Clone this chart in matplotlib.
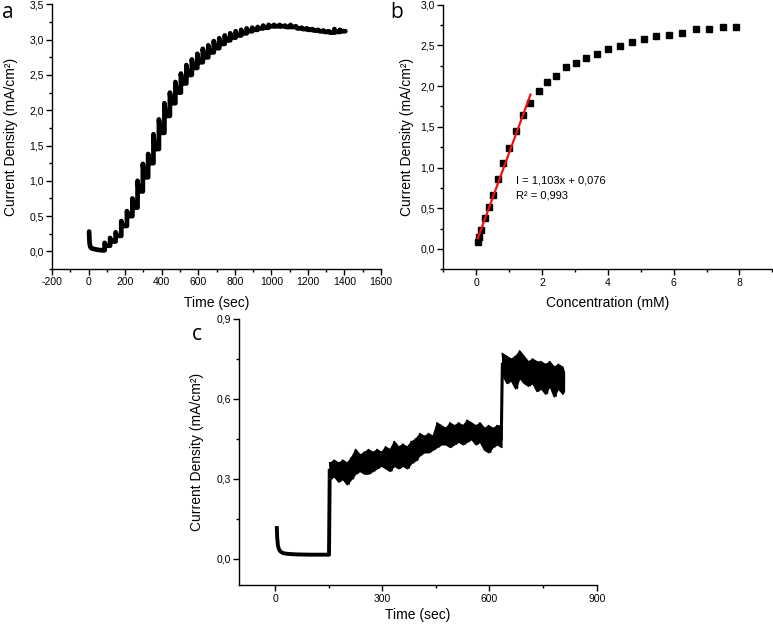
import numpy as np
import matplotlib.pyplot as plt
from matplotlib.ticker import MultipleLocator, FuncFormatter

plt.rcParams['font.family'] = ['Liberation Sans', 'DejaVu Sans']
plt.rcParams['axes.unicode_minus'] = False

# ---- panel a: amperometric staircase ----
a_init_time = [3, 4, 6, 9, 13, 20, 35, 55, 75, 88]
a_init_current = [0.28, 0.20, 0.11, 0.07, 0.05, 0.04, 0.03, 0.02, 0.015, 0.015]
a_step_time = [88, 118, 148, 179, 210, 240, 268, 297, 326, 355, 385, 415, 445,
               475, 505, 535, 565, 595, 625, 655, 685, 715, 745, 775, 805, 835,
               865, 895, 925, 955, 985, 1015, 1045, 1075, 1105, 1135, 1165,
               1195, 1225, 1255, 1285, 1315, 1345, 1375]
a_step_peak = [0.12, 0.19, 0.27, 0.43, 0.57, 0.75, 1.00, 1.24, 1.38, 1.66, 1.87,
               2.10, 2.25, 2.40, 2.52, 2.64, 2.72, 2.80, 2.87, 2.92, 2.98, 3.02,
               3.06, 3.09, 3.12, 3.14, 3.16, 3.17, 3.18, 3.20, 3.21, 3.21, 3.21,
               3.20, 3.21, 3.19, 3.17, 3.16, 3.15, 3.14, 3.13, 3.12, 3.15, 3.14]
a_step_base = [0.08, 0.14, 0.22, 0.36, 0.50, 0.62, 0.85, 1.05, 1.25, 1.45, 1.68,
               1.92, 2.10, 2.25, 2.38, 2.50, 2.60, 2.68, 2.75, 2.82, 2.88, 2.94,
               2.99, 3.03, 3.06, 3.09, 3.12, 3.14, 3.16, 3.17, 3.19, 3.19, 3.19,
               3.18, 3.18, 3.16, 3.15, 3.14, 3.13, 3.12, 3.11, 3.10, 3.11, 3.12]
a_end_time = 1405

# ---- panel b: calibration ----
b_conc = [0.05, 0.10, 0.16, 0.27, 0.39, 0.51, 0.66, 0.82, 0.99, 1.21, 1.42,
          1.65, 1.90, 2.16, 2.42, 2.73, 3.04, 3.33, 3.68, 4.01, 4.36, 4.74,
          5.11, 5.47, 5.87, 6.27, 6.67, 7.07, 7.49, 7.91]
b_current = [0.09, 0.15, 0.23, 0.38, 0.51, 0.66, 0.86, 1.05, 1.24, 1.45, 1.64,
             1.79, 1.94, 2.05, 2.13, 2.24, 2.29, 2.35, 2.40, 2.45, 2.49, 2.54,
             2.58, 2.61, 2.63, 2.65, 2.70, 2.70, 2.72, 2.73]
fit_slope = 1.103
fit_intercept = 0.076
fit_conc = np.array([0.05, 1.65])

# ---- panel c: interference test ----
c_base_time = [5, 6, 8, 11, 15, 22, 35, 60, 100, 140, 151, 153]
c_base_current = [0.115, 0.08, 0.05, 0.035, 0.027, 0.021, 0.018, 0.016, 0.015,
                  0.015, 0.015, 0.33]
c_seg1_time = [153, 165, 177, 189, 201, 213, 225, 237, 249, 261, 273, 285, 297,
               309, 321, 333, 345, 357, 369, 381, 393, 405, 417, 429, 441, 453,
               465, 477, 489, 501, 513, 525, 537, 549, 561, 573, 585, 597, 609,
               621, 633]
c_seg1_upper = [0.36, 0.37, 0.36, 0.37, 0.36, 0.38, 0.41, 0.39, 0.40, 0.41, 0.40,
                0.41, 0.40, 0.42, 0.41, 0.44, 0.42, 0.43, 0.42, 0.44, 0.45, 0.47,
                0.46, 0.47, 0.46, 0.51, 0.50, 0.49, 0.51, 0.50, 0.51, 0.50, 0.52,
                0.51, 0.50, 0.51, 0.49, 0.50, 0.49, 0.50, 0.50]
c_seg1_lower = [0.30, 0.31, 0.29, 0.30, 0.28, 0.30, 0.32, 0.33, 0.32, 0.32, 0.33,
                0.34, 0.35, 0.34, 0.33, 0.35, 0.34, 0.35, 0.34, 0.36, 0.37, 0.39,
                0.40, 0.40, 0.41, 0.42, 0.43, 0.43, 0.42, 0.43, 0.44, 0.43, 0.44,
                0.45, 0.43, 0.44, 0.41, 0.40, 0.42, 0.43, 0.42]
c_jump_time = [633, 636]
c_jump_current = [0.45, 0.73]
c_seg2_time = [636, 648, 660, 672, 684, 696, 708, 720, 732, 744, 756, 768, 780,
               792, 804, 808]
c_seg2_upper = [0.77, 0.76, 0.75, 0.76, 0.78, 0.76, 0.74, 0.75, 0.74, 0.74, 0.73,
                0.74, 0.72, 0.73, 0.72, 0.70]
c_seg2_lower = [0.69, 0.66, 0.67, 0.64, 0.68, 0.66, 0.65, 0.66, 0.63, 0.64, 0.62,
                0.65, 0.61, 0.64, 0.62, 0.63]


def comma(dec):
    return FuncFormatter(lambda v, p: f'{v:.{dec}f}'.replace('.', ',').replace('-0,0', '0,0'))


def style_axes(ax):
    for s in ['top', 'right']:
        ax.spines[s].set_visible(False)
    for s in ['left', 'bottom']:
        ax.spines[s].set_linewidth(1.0)
    ax.tick_params(which='major', direction='out', length=4, width=1, labelsize=7.5, pad=2)
    ax.tick_params(which='minor', direction='out', length=2.5, width=1)


def noisy_band(ax, t, lo, hi):
    # filled envelope plus a zigzag between the read-off upper/lower values
    ax.fill_between(t, lo, hi, color='black', lw=1.2, edgecolor='black')
    zx, zy = [], []
    for i in range(len(t) - 1):
        zx += [t[i], (t[i] + t[i + 1]) / 2]
        zy += [hi[i], lo[i]]
    ax.plot(zx, zy, color='black', lw=1.2)


W, H = 773, 624
fig = plt.figure(figsize=(W / 100, H / 100), dpi=100)


def px_axes(l, t, r, b):
    return fig.add_axes([l / W, 1 - b / H, (r - l) / W, (b - t) / H])


# panel a
ax1 = px_axes(52, 4.4, 381, 269)
xs, ys = list(a_init_time), list(a_init_current)
prev = a_init_current[-1]
for i, t in enumerate(a_step_time):
    t_next = a_step_time[i + 1] if i + 1 < len(a_step_time) else a_end_time
    xs += [t, t, t + 8, t_next]
    ys += [prev, a_step_peak[i], a_step_base[i], a_step_base[i]]
    prev = a_step_base[i]
ax1.plot(xs, ys, color='black', lw=3.4, solid_joinstyle='round', solid_capstyle='round')
ax1.set_xlim(-200, 1600)
ax1.set_ylim(-0.25, 3.5)
ax1.xaxis.set_major_locator(MultipleLocator(200))
ax1.xaxis.set_minor_locator(MultipleLocator(100))
ax1.yaxis.set_major_locator(MultipleLocator(0.5))
ax1.yaxis.set_minor_locator(MultipleLocator(0.25))
ax1.yaxis.set_major_formatter(comma(1))
ax1.set_xlabel('Time (sec)', fontsize=10, labelpad=6)
ax1.set_ylabel('Current Density (mA/cm²)', fontsize=10, labelpad=8)
style_axes(ax1)

# panel b
ax2 = px_axes(443.3, 4.7, 772.3, 269.3)
ax2.plot(b_conc, b_current, 's', color='black', ms=4.3)
ax2.plot(fit_conc, fit_slope * fit_conc + fit_intercept, color='#ee1111', lw=1.6)
ax2.set_xlim(-1, 9)
ax2.set_ylim(-0.25, 3.0)
ax2.xaxis.set_major_locator(MultipleLocator(2))
ax2.xaxis.set_minor_locator(MultipleLocator(1))
ax2.yaxis.set_major_locator(MultipleLocator(0.5))
ax2.yaxis.set_minor_locator(MultipleLocator(0.25))
ax2.yaxis.set_major_formatter(comma(1))
ax2.set_xlabel('Concentration (mM)', fontsize=10, labelpad=6)
ax2.set_ylabel('Current Density (mA/cm²)', fontsize=10, labelpad=5)
ax2.text(1.22, 0.84, 'I = 1,103x + 0,076', fontsize=8, va='center')
ax2.text(1.22, 0.66, 'R² = 0,993', fontsize=8, va='center')
style_axes(ax2)

# panel c
ax3 = px_axes(239.3, 319, 596.7, 585.3)
ax3.plot(c_base_time, c_base_current, color='black', lw=2.8, solid_joinstyle='round')
noisy_band(ax3, c_seg1_time, c_seg1_lower, c_seg1_upper)
ax3.plot(c_jump_time, c_jump_current, color='black', lw=2.2)
noisy_band(ax3, c_seg2_time, c_seg2_lower, c_seg2_upper)
ax3.set_xlim(-100, 900)
ax3.set_ylim(-0.1, 0.9)
ax3.xaxis.set_major_locator(MultipleLocator(300))
ax3.xaxis.set_minor_locator(MultipleLocator(150))
ax3.yaxis.set_major_locator(MultipleLocator(0.3))
ax3.yaxis.set_minor_locator(MultipleLocator(0.15))
ax3.yaxis.set_major_formatter(comma(1))
ax3.set_xlabel('Time (sec)', fontsize=10, labelpad=3)
ax3.set_ylabel('Current Density (mA/cm²)', fontsize=10, labelpad=9)
style_axes(ax3)

# panel letters
for lbl, x, y in [('a', 8, 12), ('b', 397, 12), ('c', 197, 335)]:
    fig.text(x / W, 1 - y / H, lbl, fontsize=15, family=['Open Sans', 'DejaVu Sans'],
             ha='center', va='center')

fig.savefig('out.png', dpi=100, facecolor='w')
